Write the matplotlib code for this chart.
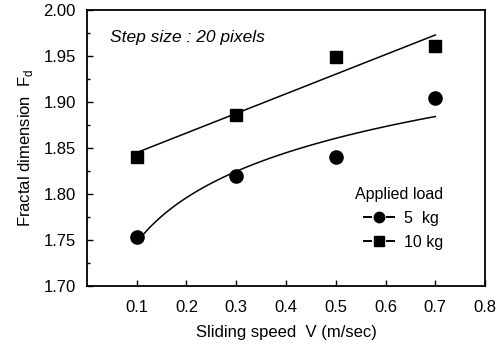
import numpy as np
import matplotlib
matplotlib.use("Agg")
import matplotlib.pyplot as plt
from matplotlib.lines import Line2D
from matplotlib.legend_handler import HandlerBase
from matplotlib.ticker import MultipleLocator, FormatStrFormatter

plt.rcParams['font.family'] = ['Liberation Sans', 'DejaVu Sans']

speed = np.array([0.1, 0.3, 0.5, 0.7])
fd_5kg = np.array([1.753, 1.820, 1.840, 1.904])
fd_10kg = np.array([1.840, 1.886, 1.949, 1.961])
x_ticks = [0.1, 0.2, 0.3, 0.4, 0.5, 0.6, 0.7, 0.8]
y_ticks = [1.70, 1.75, 1.80, 1.85, 1.90, 1.95, 2.00]


class DashMarkHandler(HandlerBase):
    """Legend key drawn as  -marker-  (short stub, symbol, short stub)."""

    def create_artists(self, legend, orig_handle, xdescent, ydescent,
                       width, height, fontsize, trans):
        y = (height - ydescent) / 2
        x0 = -xdescent
        x1 = x0 + width
        stub = 0.24 * width
        left = Line2D([x0, x0 + stub], [y, y], color='k', lw=1.4)
        right = Line2D([x1 - stub, x1], [y, y], color='k', lw=1.4)
        mark = Line2D([x0 + width / 2], [y], ls='none', color='k',
                      marker=orig_handle.get_marker(),
                      markersize=orig_handle.get_markersize())
        for art in (left, right, mark):
            art.set_transform(trans)
        return [left, mark, right]


fig = plt.figure(figsize=(4.97, 3.46), dpi=100)
ax = fig.add_axes([0.175, 0.173, 0.801, 0.798])

# fitted trends: logarithmic for 5 kg, linear for 10 kg
xf = np.linspace(speed.min(), speed.max(), 100)
b5, a5 = np.polyfit(np.log(speed), fd_5kg, 1)
ax.plot(xf, a5 + b5 * np.log(xf), color='k', lw=1.1)
m10, c10 = np.polyfit(speed, fd_10kg, 1)
ax.plot(xf, c10 + m10 * xf, color='k', lw=1.1)

ax.plot(speed, fd_5kg, 'o', color='k', ms=9.5, ls='none')
ax.plot(speed, fd_10kg, 's', color='k', ms=9, ls='none')

ax.set_xlim(0, 0.8)
ax.set_ylim(1.70, 2.00)
ax.set_xticks(x_ticks)
ax.set_yticks(y_ticks)
ax.xaxis.set_major_formatter(FormatStrFormatter('%.1f'))
ax.yaxis.set_major_formatter(FormatStrFormatter('%.2f'))
ax.yaxis.set_minor_locator(MultipleLocator(0.025))
ax.tick_params(which='major', direction='in', length=4, width=1, labelsize=12, pad=8)
ax.tick_params(which='minor', direction='in', length=2.5, width=1)
ax.tick_params(axis='x', pad=10)
for s in ax.spines.values():
    s.set_linewidth(1.3)

ax.set_xlabel('Sliding speed  V (m/sec)', fontsize=12, labelpad=7)
ax.set_ylabel(r'Fractal dimension  F$_\mathregular{d}$', fontsize=12, labelpad=6)

ax.text(0.057, 0.902, 'Step size : 20 pixels', transform=ax.transAxes,
        fontsize=12.5, style='italic', ha='left', va='center')

handles = [
    Line2D([], [], color='k', marker='o', ms=7.5),
    Line2D([], [], color='k', marker='s', ms=7.5),
]
leg = ax.legend(handles, ['5  kg', '10 kg'], title='Applied load',
                loc='lower right', bbox_to_anchor=(0.93, 0.08), frameon=False,
                fontsize=11.5, title_fontsize=11.5, handlelength=1.9,
                handletextpad=0.6, labelspacing=0.55,
                handler_map={Line2D: DashMarkHandler()})
leg._legend_box.align = 'right'

fig.savefig('out.png', dpi=100)
